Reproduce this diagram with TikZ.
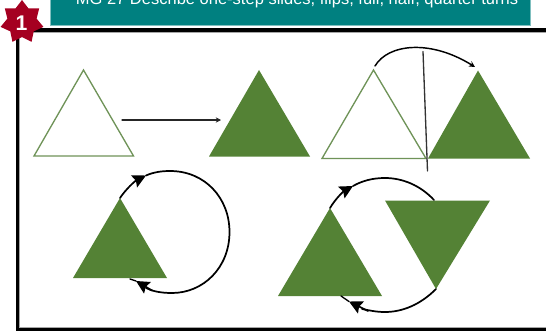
\documentclass[tikz,border=0pt]{standalone}
\usepackage{fontspec}
\usepackage{xcolor}
\setmainfont{Liberation Sans}
\usetikzlibrary{arrows.meta}
\definecolor{hdteal}{HTML}{008080}
\definecolor{hdedge}{HTML}{7FBFBF}
\definecolor{starred}{HTML}{A50021}
\definecolor{trigreen}{HTML}{548235}
\definecolor{triedge}{HTML}{6F9358}

\begin{document}
\begin{tikzpicture}[x=0.0265cm, y=-0.0265cm, line cap=round,
    solidtri/.style={fill=trigreen, draw=none},
    opentri/.style={fill=white, draw=triedge, line width=1pt, line join=miter},
    turnline/.style={line width=1.3pt, black},
    turnbig/.style={line width=1.3pt, black, -{Stealth[length=10pt,width=10pt,inset=1.5pt]}}]

  \useasboundingbox (0,0) rectangle (546,331);

  % ---- header band and frame -----------------------------------------------
  \begin{scope}
    \clip (0,0) rectangle (546,331);
    \fill[hdteal] (50,-5) rectangle (530,25);
    \draw[hdedge, line width=0.7pt] (50,-5) -- (50,25) -- (530,25) -- (530,-5);
    \node[text=white, font=\fontsize{12.45pt}{14pt}\selectfont, anchor=base] (title) at (297,4.5)
      {MG 27 Describe one-step slides, flips, full, half, quarter turns};
    \draw[black!35, line width=1pt, line cap=butt] (19,32.8) -- (548,32.8);
    \draw[black!35, line width=1pt, line cap=butt] (19.8,32) -- (19.8,327);
    \draw[black!35, line width=1pt, line cap=butt] (19,327.6) -- (548,327.6);
    \draw[black, line width=2.5pt, line cap=butt, line join=miter] (548,330) -- (17.2,330) -- (17.2,30) -- (548,30);
  \end{scope}

  % ---- badge -----------------------------------------------------------------
  \fill[starred] (22,0)
    \foreach \a in {1,...,13}{ -- ({22+(mod(\a,2)==0 ? 22 : 15)*sin(\a*180/7)},{22-(mod(\a,2)==0 ? 22 : 15)*cos(\a*180/7)}) } -- cycle;
  \node[text=white, font=\fontsize{16pt}{17pt}\selectfont\bfseries] (badge) at (21.5,23) {1};

  % ---- slide ---------------------------------------------------------------
  \draw[opentri] (83.5,70) -- (133.5,156) -- (34,156) -- cycle;
  \fill[solidtri] (259,70) -- (310,156.5) -- (209,156.5) -- cycle;
  \coordinate (slideA) at (122,120);
  \coordinate (slideB) at (221,120);
  \draw[line width=1pt, black!85, -{Stealth[length=4pt,width=4pt]}] (slideA) -- (slideB);

  % ---- flip ----------------------------------------------------------------
  \draw[opentri] (373.5,70) -- (426,158.5) -- (322,158.5) -- cycle;
  \fill[solidtri] (478,70.5) -- (530,158.5) -- (428,158.5) -- cycle;
  \coordinate (mirrorA) at (423,51.5);
  \coordinate (mirrorB) at (427.5,171);
  \draw[line width=1pt, black!80] (mirrorA) -- (mirrorB);
  \coordinate (flipA) at (375,66);
  \coordinate (flipB) at (475,67);
  \draw[line width=1.1pt, black, -{Stealth[length=4.5pt,width=4.5pt]}] (flipA) .. controls (388,44) and (430,39) .. (flipB);

  % ---- full turn -----------------------------------------------------------
  \fill[solidtri] (120,198) -- (167,278) -- (73,278) -- cycle;
  \coordinate (fullA) at (120,198);
  \coordinate (fullB) at (130,279);
  \coordinate (fullTop) at (146,175.5);
  \coordinate (fullLow) at (136,281);
  \draw[turnbig] (fullA) .. controls (126,189) and (135,181) .. (fullTop);
  \draw[turnline] (fullTop) .. controls (154,172) and (162,171) .. (170,171)
    .. controls (205,171) and (229.5,198) .. (229.5,232)
    .. controls (229.5,268) and (203,293) .. (172,293)
    .. controls (160,293) and (152,291) .. (146,288);
  \draw[turnbig] (152,290.5) -- (fullLow);
  \draw[line width=1pt, black] (fullLow) -- (fullB);

  % ---- half turn -----------------------------------------------------------
  \fill[solidtri] (330,208) -- (382,296) -- (278,296) -- cycle;
  \fill[solidtri] (385,200.5) -- (490,200.5) -- (436,289) -- cycle;
  \coordinate (halfA) at (330,208);
  \coordinate (halfB) at (434,200);
  \coordinate (halfC) at (436,289);
  \coordinate (halfD) at (341,296);
  \coordinate (halfTop) at (353,186);
  \coordinate (halfLow) at (349,301.5);
  \draw[turnbig] (halfA) .. controls (336,198) and (344,191) .. (halfTop);
  \draw[turnline] (halfB) .. controls (420,185) and (402,178) .. (385,178)
    .. controls (372,178) and (362,181) .. (halfTop);
  \draw[turnline] (halfC) .. controls (420,305) and (402,312) .. (385,312)
    .. controls (375,312) and (368,310) .. (362,309);
  \draw[turnbig] (368,311) -- (halfLow);
  \draw[line width=1pt, black] (halfLow) -- (halfD);
\end{tikzpicture}
\end{document}
